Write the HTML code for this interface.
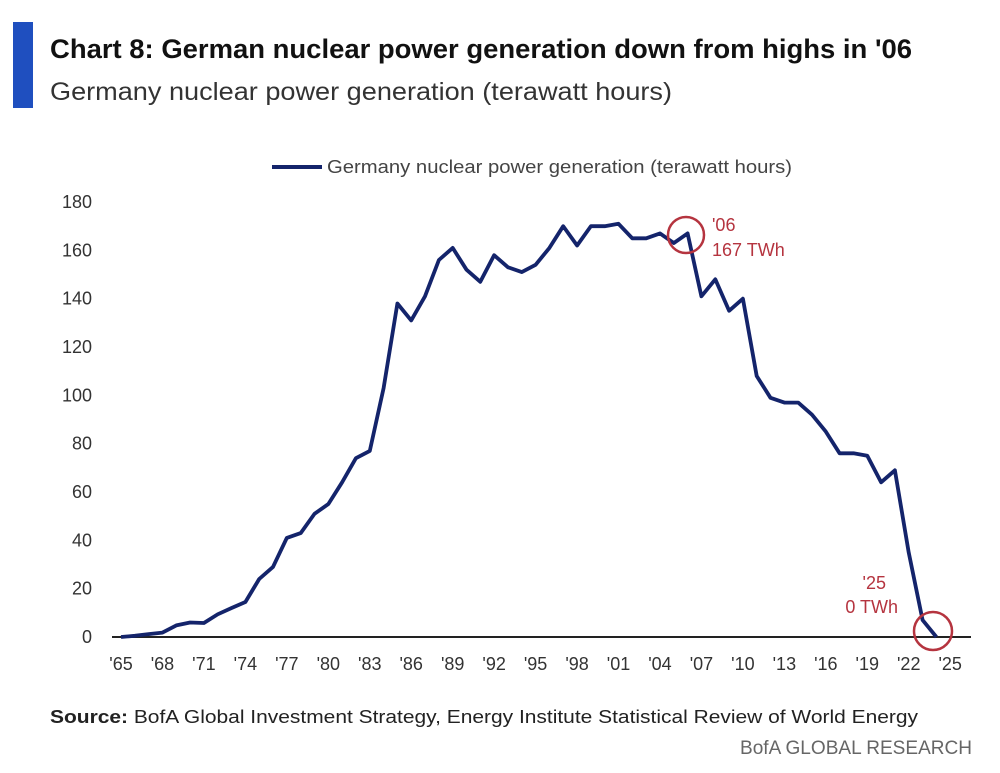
<!DOCTYPE html>
<html><head><meta charset="utf-8"><style>
body{margin:0;background:#fff;}
svg{display:block;font-family:"Liberation Sans Narrow","Liberation Sans",sans-serif;}
</style></head><body>
<svg id="s" width="1000" height="773" viewBox="0 0 1000 773" xmlns="http://www.w3.org/2000/svg">
<rect x="13" y="22" width="20" height="86" fill="#1f4fbf"/>
<text x="50" y="58" font-size="27" font-weight="bold" fill="#111" textLength="862" lengthAdjust="spacingAndGlyphs">Chart 8: German nuclear power generation down from highs in '06</text>
<text x="50" y="100" font-size="25" fill="#333" textLength="622" lengthAdjust="spacingAndGlyphs">Germany nuclear power generation (terawatt hours)</text>
<line x1="272" y1="167" x2="322" y2="167" stroke="#14246b" stroke-width="4"/>
<text x="327" y="173" font-size="18" fill="#444" textLength="465" lengthAdjust="spacingAndGlyphs">Germany nuclear power generation (terawatt hours)</text>
<g id="yl" font-size="18" fill="#333" text-anchor="end"></g>
<g id="xl" font-size="18" fill="#333" text-anchor="middle"></g>
<line x1="112" y1="637" x2="971" y2="637" stroke="#222" stroke-width="2"/>
<polyline id="pl" fill="none" stroke="#14246b" stroke-width="3.8" stroke-linejoin="round"/>
<circle cx="686" cy="235" r="18" fill="none" stroke="#b5343f" stroke-width="2.5"/>
<circle cx="933" cy="631" r="19" fill="none" stroke="#b5343f" stroke-width="2.5"/>
<text x="712" y="231" font-size="18" fill="#b5343f">'06</text>
<text x="712" y="256" font-size="18" fill="#b5343f">167 TWh</text>
<text x="886" y="589" font-size="18" fill="#b5343f" text-anchor="end">'25</text>
<text x="898" y="613" font-size="18" fill="#b5343f" text-anchor="end">0 TWh</text>
<text x="50" y="723" font-size="18" fill="#222" textLength="868" lengthAdjust="spacingAndGlyphs"><tspan font-weight="bold">Source:</tspan> BofA Global Investment Strategy, Energy Institute Statistical Review of World Energy</text>
<text x="972" y="754" font-size="19" fill="#666" text-anchor="end" textLength="232" lengthAdjust="spacingAndGlyphs">BofA GLOBAL RESEARCH</text>
</svg>
<script>
var d=[0,0.5,1.2,1.8,4.8,6,5.8,9.4,12,14.5,24,29,41,43,51,55,64,74,77,103,138,131,141,156,161,152,147,158,153,151,154,161,170,162,170,170,171,165,165,167,163,167,141,148,135,140,108,99,97,97,92,85,76,76,75,64,69,35,7,0];
var X=function(i){return 121+i*13.82},Y=function(v){return 637-v*435/180};
document.getElementById('pl').setAttribute('points',d.map(function(v,i){return X(i).toFixed(1)+','+Y(v).toFixed(1)}).join(' '));
var ns='http://www.w3.org/2000/svg',yl=document.getElementById('yl'),xl=document.getElementById('xl');
for(var v=0;v<=180;v+=20){var t=document.createElementNS(ns,'text');t.setAttribute('x',92);t.setAttribute('y',Y(v)+6);t.textContent=v;yl.appendChild(t);}
for(var i=0;i<=60;i+=3){var t=document.createElementNS(ns,'text');t.setAttribute('x',X(i));t.setAttribute('y',670);var yr=(65+i)%100;t.textContent="'"+(yr<10?'0':'')+yr;xl.appendChild(t);}
</script>
</body></html>
